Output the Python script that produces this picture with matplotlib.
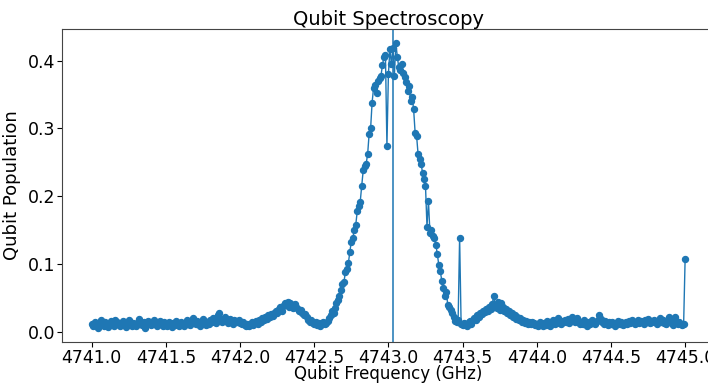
import numpy as np
import matplotlib.pyplot as plt

# qubit spectroscopy sweep, 0.01 GHz steps from 4741.0 to 4745.0
f_start = 4741.0
f_step = 0.01
center = 4743.03

pop_4741 = [
    0.012, 0.008, 0.014, 0.010, 0.006, 0.013, 0.017, 0.011, 0.009, 0.015,
    0.012, 0.007, 0.010, 0.016, 0.013, 0.009, 0.018, 0.014, 0.011, 0.008,
    0.013, 0.016, 0.010, 0.007, 0.012, 0.017, 0.014, 0.009, 0.013, 0.011,
    0.008, 0.015, 0.019, 0.012, 0.010, 0.014, 0.006, 0.011, 0.016, 0.013,
    0.010, 0.014, 0.018, 0.012, 0.009, 0.013, 0.016, 0.011, 0.008, 0.014,
    0.012, 0.009, 0.015, 0.011, 0.007, 0.013, 0.010, 0.016, 0.012, 0.009,
    0.014, 0.011, 0.008, 0.013, 0.017, 0.012, 0.010, 0.015, 0.020, 0.013,
    0.011, 0.016, 0.012, 0.009, 0.014, 0.019, 0.013, 0.010, 0.015, 0.012,
    0.017, 0.014, 0.020, 0.016, 0.013, 0.024, 0.027, 0.019, 0.015, 0.018,
    0.021, 0.016, 0.013, 0.019, 0.015, 0.012, 0.018, 0.016, 0.014, 0.017,
]
pop_4742 = [
    0.013, 0.011, 0.015, 0.010, 0.008, 0.012, 0.009, 0.011, 0.014, 0.010,
    0.013, 0.016, 0.012, 0.018, 0.015, 0.020, 0.017, 0.022, 0.019, 0.024,
    0.021, 0.026, 0.023, 0.028, 0.030, 0.027, 0.033, 0.036, 0.031, 0.038,
    0.042, 0.039, 0.044, 0.037, 0.043, 0.040, 0.035, 0.041, 0.036, 0.033,
    0.030, 0.032, 0.027, 0.024, 0.026, 0.021, 0.018, 0.015, 0.017, 0.013,
    0.011, 0.014, 0.010, 0.013, 0.009, 0.012, 0.015, 0.011, 0.013, 0.016,
    0.020, 0.025, 0.030, 0.028, 0.035, 0.042, 0.047, 0.052, 0.061, 0.070,
    0.073, 0.088, 0.092, 0.101, 0.118, 0.133, 0.138, 0.150, 0.158, 0.178,
    0.185, 0.192, 0.215, 0.238, 0.244, 0.248, 0.262, 0.292, 0.300, 0.338,
    0.360, 0.364, 0.352, 0.370, 0.375, 0.378, 0.394, 0.405, 0.409, 0.274,
]
pop_4743 = [
    0.380, 0.417, 0.395, 0.419, 0.377, 0.426, 0.406, 0.390, 0.387, 0.395,
    0.382, 0.376, 0.369, 0.355, 0.362, 0.340, 0.347, 0.328, 0.294, 0.289,
    0.262, 0.255, 0.248, 0.235, 0.226, 0.215, 0.155, 0.193, 0.145, 0.150,
    0.142, 0.138, 0.128, 0.114, 0.098, 0.089, 0.075, 0.064, 0.053, 0.058,
    0.040, 0.036, 0.032, 0.028, 0.022, 0.016, 0.014, 0.018, 0.139, 0.012,
    0.010, 0.013, 0.011, 0.009, 0.014, 0.016, 0.012, 0.018, 0.020, 0.017,
    0.025, 0.022, 0.028, 0.026, 0.031, 0.029, 0.034, 0.030, 0.036, 0.033,
    0.041, 0.053, 0.038, 0.035, 0.044, 0.032, 0.042, 0.036, 0.030, 0.033,
    0.027, 0.031, 0.024, 0.028, 0.021, 0.025, 0.019, 0.022, 0.017, 0.020,
    0.015, 0.018, 0.013, 0.016, 0.012, 0.014, 0.011, 0.015, 0.013, 0.010,
]
pop_4744 = [
    0.012, 0.009, 0.014, 0.011, 0.008, 0.013, 0.010, 0.016, 0.012, 0.009,
    0.014, 0.017, 0.012, 0.015, 0.020, 0.013, 0.011, 0.016, 0.014, 0.018,
    0.015, 0.019, 0.013, 0.016, 0.022, 0.017, 0.014, 0.020, 0.016, 0.012,
    0.015, 0.011, 0.017, 0.013, 0.009, 0.014, 0.012, 0.018, 0.015, 0.011,
    0.014, 0.017, 0.024, 0.019, 0.015, 0.012, 0.016, 0.013, 0.010, 0.014,
    0.011, 0.015, 0.012, 0.009, 0.013, 0.016, 0.012, 0.014, 0.010, 0.013,
    0.015, 0.012, 0.016, 0.013, 0.017, 0.014, 0.011, 0.015, 0.018, 0.013,
    0.016, 0.014, 0.012, 0.017, 0.015, 0.019, 0.013, 0.016, 0.014, 0.018,
    0.015, 0.012, 0.016, 0.020, 0.014, 0.017, 0.013, 0.011, 0.015, 0.022,
    0.016, 0.013, 0.010, 0.021, 0.014, 0.011, 0.015, 0.012, 0.010, 0.012,
]
pop_4745 = [0.108]

pop = np.array(pop_4741 + pop_4742 + pop_4743 + pop_4744 + pop_4745)
freq = f_start + f_step * np.arange(len(pop))

fig = plt.figure(figsize=(7.08, 3.85), dpi=100)
ax = fig.add_axes([0.0876, 0.112, 0.922, 0.813])
ax.plot(freq, pop, '-o', color='#1f77b4', markersize=4.3, linewidth=1)
ax.axvline(center, color='#1f77b4', linewidth=1.4, alpha=0.8)

ax.set_title('Qubit Spectroscopy', fontsize=14, pad=2)
ax.set_xlabel('Qubit Frequency (GHz)', fontsize=12)
ax.xaxis.set_label_coords(0.5, -0.075)
ax.set_ylabel('Qubit Population', fontsize=13, labelpad=5)
ax.set_xticks(np.arange(4741.0, 4745.01, 0.5))
ax.set_xticklabels(['%.1f' % t for t in np.arange(4741.0, 4745.01, 0.5)])
ax.tick_params(labelsize=12.5, pad=1.5)
for s in ax.spines.values():
    s.set_color('#444444')

plt.savefig('out.png', dpi=100)
